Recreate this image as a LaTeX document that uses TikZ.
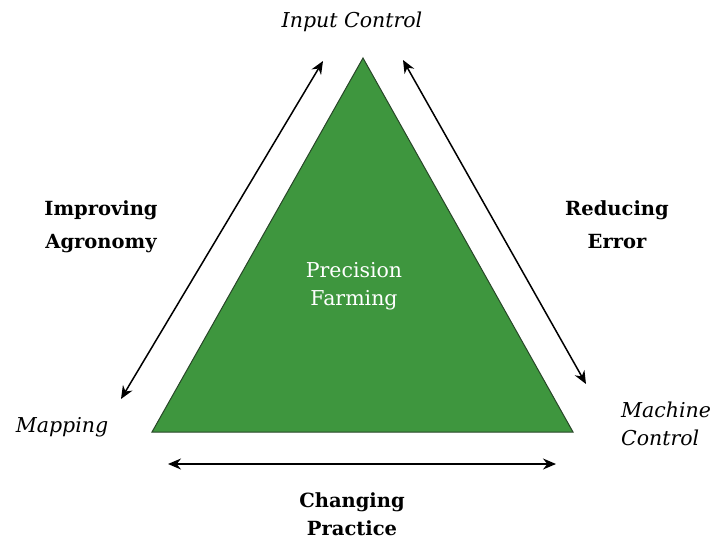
\documentclass[tikz,border=0pt]{standalone}
\usepackage{fontspec}
\setmainfont{DejaVu Serif}
\usetikzlibrary{arrows.meta}
\definecolor{farmgreen}{RGB}{62,150,62}
\definecolor{edgegreen}{RGB}{40,70,40}
\tikzset{
  dbl/.style={{Stealth[length=13pt,width=11pt]}-{Stealth[length=13pt,width=11pt]}, line width=1.5pt, black},
  corner/.style={font=\itshape\fontsize{20.5}{28}\selectfont, text=black, inner sep=0pt, anchor=base},
  side/.style={font=\bfseries\fontsize{19.5}{33}\selectfont, align=center, text=black, inner sep=0pt, anchor=base},
  bottomside/.style={side, font=\bfseries\fontsize{19.5}{27.5}\selectfont},
  inner/.style={font=\fontsize{20.5}{28}\selectfont, align=center, text=white, inner sep=0pt, anchor=base}
}
\begin{document}
\begin{tikzpicture}[x=1pt,y=-1pt]
\useasboundingbox (0,0) rectangle (715,544);
\coordinate (apex) at (363,58);
\coordinate (bl) at (152,432);
\coordinate (br) at (573,432);
\fill[farmgreen, draw=edgegreen, line width=1pt, line join=miter] (apex) -- (br) -- (bl) -- cycle;
\node[inner] (pf) at (354,305) {Precision\\Farming};
\coordinate (la) at (121,399);
\coordinate (lb) at (323,61);
\coordinate (ra) at (403,60);
\coordinate (rb) at (586,384);
\coordinate (ba) at (168,464);
\coordinate (bb) at (556,464);
\draw[dbl] (la) -- (lb);
\draw[dbl] (ra) -- (rb);
\draw[dbl] (ba) -- (bb);
\node[corner] (ic) at (352,27) {Input Control};
\node[corner] (mp) at (62,432) {Mapping};
\node[corner, align=left] (mc) at (666,445) {Machine\\Control};
\node[side] (ia) at (101,248) {Improving\\Agronomy};
\node[side] (re) at (617,248) {Reducing\\Error};
\node[bottomside] (cp) at (352,535) {Changing\\Practice};
\end{tikzpicture}
\end{document}
